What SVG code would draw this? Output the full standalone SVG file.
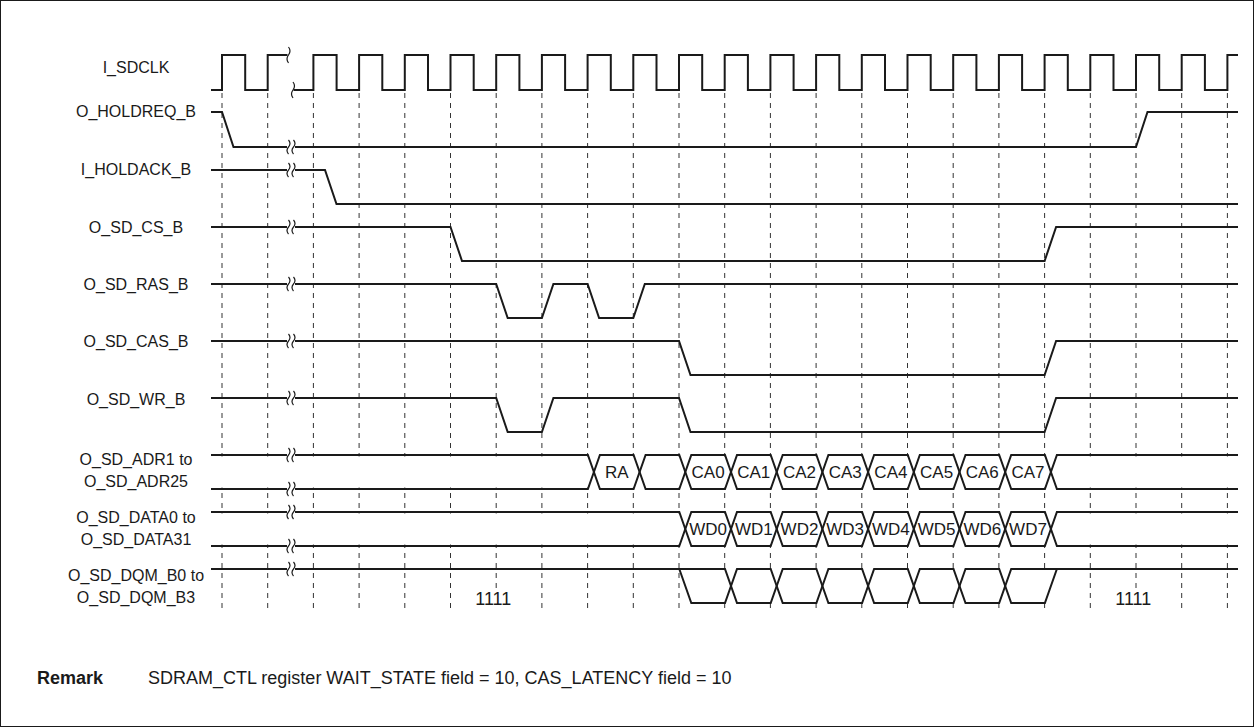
<svg xmlns="http://www.w3.org/2000/svg" xmlns:xlink="http://www.w3.org/1999/xlink" width="1254" height="727" viewBox="0 0 1254 727">
<style>
.sig{fill:none;stroke:#1a1a1a;stroke-width:2;stroke-linejoin:miter}
.grid{stroke:#333;stroke-width:1;stroke-dasharray:5 5}
.brk{fill:none;stroke:#1a1a1a;stroke-width:1.2}
.lbl{font-family:"Liberation Sans",Arial,sans-serif;font-size:16px;fill:#1a1a1a;text-anchor:middle}
.cell{font-family:"Liberation Sans",Arial,sans-serif;font-size:17px;fill:#1a1a1a;text-anchor:middle}
.rem{font-family:"Liberation Sans",Arial,sans-serif;font-size:18px;fill:#1a1a1a}
.mask{fill:#fff;stroke:none}
</style>
<defs>
<path id="brk" class="brk" d="M-2.5,-7 q3,3.5 0,7 q-3,3.5 0,7 M2.5,-7 q3,3.5 0,7 q-3,3.5 0,7"/>
<path id="brk1" class="brk" d="M0,-8 q3,4 0,8 q-3,4 0,8"/>
</defs>
<rect x="0.5" y="0.5" width="1253" height="726" fill="#fff" stroke="#1a1a1a" stroke-width="1"/>

<g id="grid">
<line class="grid" x1="222" y1="93" x2="222" y2="612"/>
<line class="grid" x1="267.7" y1="93" x2="267.7" y2="612"/>
<line class="grid" x1="313.4" y1="93" x2="313.4" y2="612"/>
<line class="grid" x1="359.1" y1="93" x2="359.1" y2="612"/>
<line class="grid" x1="404.8" y1="93" x2="404.8" y2="612"/>
<line class="grid" x1="450.5" y1="93" x2="450.5" y2="612"/>
<line class="grid" x1="496.2" y1="93" x2="496.2" y2="612"/>
<line class="grid" x1="541.9" y1="93" x2="541.9" y2="612"/>
<line class="grid" x1="587.6" y1="93" x2="587.6" y2="612"/>
<line class="grid" x1="633.3" y1="93" x2="633.3" y2="612"/>
<line class="grid" x1="679" y1="93" x2="679" y2="612"/>
<line class="grid" x1="724.7" y1="93" x2="724.7" y2="612"/>
<line class="grid" x1="770.4" y1="93" x2="770.4" y2="612"/>
<line class="grid" x1="816.1" y1="93" x2="816.1" y2="612"/>
<line class="grid" x1="861.8" y1="93" x2="861.8" y2="612"/>
<line class="grid" x1="907.5" y1="93" x2="907.5" y2="612"/>
<line class="grid" x1="953.2" y1="93" x2="953.2" y2="612"/>
<line class="grid" x1="998.9" y1="93" x2="998.9" y2="612"/>
<line class="grid" x1="1044.6" y1="93" x2="1044.6" y2="612"/>
<line class="grid" x1="1090.3" y1="93" x2="1090.3" y2="612"/>
<line class="grid" x1="1136" y1="93" x2="1136" y2="612"/>
<line class="grid" x1="1181.7" y1="93" x2="1181.7" y2="612"/>
<line class="grid" x1="1227.4" y1="93" x2="1227.4" y2="612"/>
<rect class="mask" x="211" y="456.5" width="1027" height="31"/>
<rect class="mask" x="211" y="513.5" width="1027" height="31"/>
<path class="mask" d="M679.3,569 L1056.9,569 L1044.9,603 L691.3,603 Z"/>
<rect class="mask" x="470" y="589" width="46" height="20"/>
<rect class="mask" x="1110" y="589" width="46" height="20"/>
</g>

<g id="labels">
<text class="lbl" x="136" y="73">I_SDCLK</text>
<text class="lbl" x="136" y="117">O_HOLDREQ_B</text>
<text class="lbl" x="136" y="175">I_HOLDACK_B</text>
<text class="lbl" x="136" y="233">O_SD_CS_B</text>
<text class="lbl" x="136" y="290">O_SD_RAS_B</text>
<text class="lbl" x="136" y="347">O_SD_CAS_B</text>
<text class="lbl" x="136" y="405">O_SD_WR_B</text>
<text class="lbl" x="136" y="465">O_SD_ADR1 to</text>
<text class="lbl" x="136" y="487">O_SD_ADR25</text>
<text class="lbl" x="136" y="523">O_SD_DATA0 to</text>
<text class="lbl" x="136" y="545">O_SD_DATA31</text>
<text class="lbl" x="136" y="581">O_SD_DQM_B0 to</text>
<text class="lbl" x="136" y="603">O_SD_DQM_B3</text>
</g>

<g id="I_SDCLK">
<path class="sig" d="M211,90 H222 V55 H245.2 V90 H267.7 V55 H287.5"/>
<path class="sig" d="M293.5,90 H313.4 V55 H336.6 V90 H359.1 V55 H382.3 V90 H404.8 V55 H428 V90 H450.5 V55 H473.7 V90 H496.2 V55 H519.4 V90 H541.9 V55 H565.1 V90 H587.6 V55 H610.8 V90 H633.3 V55 H656.5 V90 H679 V55 H702.2 V90 H724.7 V55 H747.9 V90 H770.4 V55 H793.6 V90 H816.1 V55 H839.3 V90 H861.8 V55 H885 V90 H907.5 V55 H930.7 V90 H953.2 V55 H976.4 V90 H998.9 V55 H1022.1 V90 H1044.6 V55 H1067.8 V90 H1090.3 V55 H1113.5 V90 H1136 V55 H1159.2 V90 H1181.7 V55 H1204.9 V90 H1227.4 V55 H1238"/>
<use xlink:href="#brk1" x="288.5" y="55"/>
<use xlink:href="#brk1" x="293" y="90"/>
</g>

<g id="O_HOLDREQ_B">
<path class="sig" d="M211,112 H222 L233.5,147 H287"/>
<path class="sig" d="M295,147 H1136 L1147.5,112 H1238"/>
<use xlink:href="#brk" x="291" y="147"/>
</g>

<g id="I_HOLDACK_B">
<path class="sig" d="M211,170 H287"/>
<path class="sig" d="M295,170 H325 L336.5,204 H1238"/>
<use xlink:href="#brk" x="291" y="170"/>
</g>

<g id="O_SD_CS_B">
<path class="sig" d="M211,227 H287"/>
<path class="sig" d="M295,227 H450.5 L462,261 H1044.6 L1056.1,227 H1238"/>
<use xlink:href="#brk" x="291" y="227"/>
</g>

<g id="O_SD_RAS_B">
<path class="sig" d="M211,284 H287"/>
<path class="sig" d="M295,284 H496.2 L507.7,318 H541.9 L553.4,284 H587.6 L599.1,318 H633.3 L644.8,284 H1238"/>
<use xlink:href="#brk" x="291" y="284"/>
</g>

<g id="O_SD_CAS_B">
<path class="sig" d="M211,341 H287"/>
<path class="sig" d="M295,341 H679 L690.5,375 H1044.6 L1056.1,341 H1238"/>
<use xlink:href="#brk" x="291" y="341"/>
</g>

<g id="O_SD_WR_B">
<path class="sig" d="M211,398 H287"/>
<path class="sig" d="M295,398 H496.2 L507.7,432 H541.9 L553.4,398 H679 L690.5,432 H1044.6 L1056.1,398 H1238"/>
<use xlink:href="#brk" x="291" y="398"/>
</g>

<g id="O_SD_ADR">
<path class="sig" d="M211,455 H287 M211,489 H287"/>
<path class="sig" d="M295,455 H587.9 L599.9,489 H633.6 L645.6,455 H679.3 L691.3,489 H725 L737,455 H770.7 L782.7,489 H816.4 L828.4,455 H862.1 L874.1,489 H907.8 L919.8,455 H953.5 L965.5,489 H999.2 L1011.2,455 H1044.9 L1056.9,489 H1238"/>
<path class="sig" d="M295,489 H587.9 L599.9,455 H633.6 L645.6,489 H679.3 L691.3,455 H725 L737,489 H770.7 L782.7,455 H816.4 L828.4,489 H862.1 L874.1,455 H907.8 L919.8,489 H953.5 L965.5,455 H999.2 L1011.2,489 H1044.9 L1056.9,455 H1238"/>
<use xlink:href="#brk" x="291" y="455"/>
<use xlink:href="#brk" x="291" y="489"/>
<text class="cell" x="616.7" y="478">RA</text>
<text class="cell" x="708.1" y="478">CA0</text>
<text class="cell" x="753.8" y="478">CA1</text>
<text class="cell" x="799.5" y="478">CA2</text>
<text class="cell" x="845.2" y="478">CA3</text>
<text class="cell" x="890.9" y="478">CA4</text>
<text class="cell" x="936.6" y="478">CA5</text>
<text class="cell" x="982.3" y="478">CA6</text>
<text class="cell" x="1028" y="478">CA7</text>
</g>

<g id="O_SD_DATA">
<path class="sig" d="M211,512 H287 M211,546 H287"/>
<path class="sig" d="M295,512 H679.3 L691.3,546 H725 L737,512 H770.7 L782.7,546 H816.4 L828.4,512 H862.1 L874.1,546 H907.8 L919.8,512 H953.5 L965.5,546 H999.2 L1011.2,512 H1044.9 L1056.9,546 H1238"/>
<path class="sig" d="M295,546 H679.3 L691.3,512 H725 L737,546 H770.7 L782.7,512 H816.4 L828.4,546 H862.1 L874.1,512 H907.8 L919.8,546 H953.5 L965.5,512 H999.2 L1011.2,546 H1044.9 L1056.9,512 H1238"/>
<use xlink:href="#brk" x="291" y="512"/>
<use xlink:href="#brk" x="291" y="546"/>
<text class="cell" x="708.1" y="535">WD0</text>
<text class="cell" x="753.8" y="535">WD1</text>
<text class="cell" x="799.5" y="535">WD2</text>
<text class="cell" x="845.2" y="535">WD3</text>
<text class="cell" x="890.9" y="535">WD4</text>
<text class="cell" x="936.6" y="535">WD5</text>
<text class="cell" x="982.3" y="535">WD6</text>
<text class="cell" x="1028" y="535">WD7</text>
</g>

<g id="O_SD_DQM">
<path class="sig" d="M211,569 H287"/>
<path class="sig" d="M295,569 H725 L737,603 H770.7 L782.7,569 H816.4 L828.4,603 H862.1 L874.1,569 H907.8 L919.8,603 H953.5 L965.5,569 H999.2 L1011.2,603 H1044.9 L1056.9,569 H1238"/>
<path class="sig" d="M679.3,569 L691.3,603 H725 L737,569 H770.7 L782.7,603 H816.4 L828.4,569 H862.1 L874.1,603 H907.8 L919.8,569 H953.5 L965.5,603 H999.2 L1011.2,569 H1056.9"/>
<use xlink:href="#brk" x="291" y="569"/>
<text class="cell" x="493.3" y="605" style="font-size:18px">1111</text>
<text class="cell" x="1133.3" y="605" style="font-size:18px">1111</text>
</g>

<g id="remark">
<text class="rem" x="37" y="684"><tspan font-weight="bold">Remark</tspan><tspan x="148">SDRAM_CTL register WAIT_STATE field = 10, CAS_LATENCY field = 10</tspan></text>
</g>
</svg>
